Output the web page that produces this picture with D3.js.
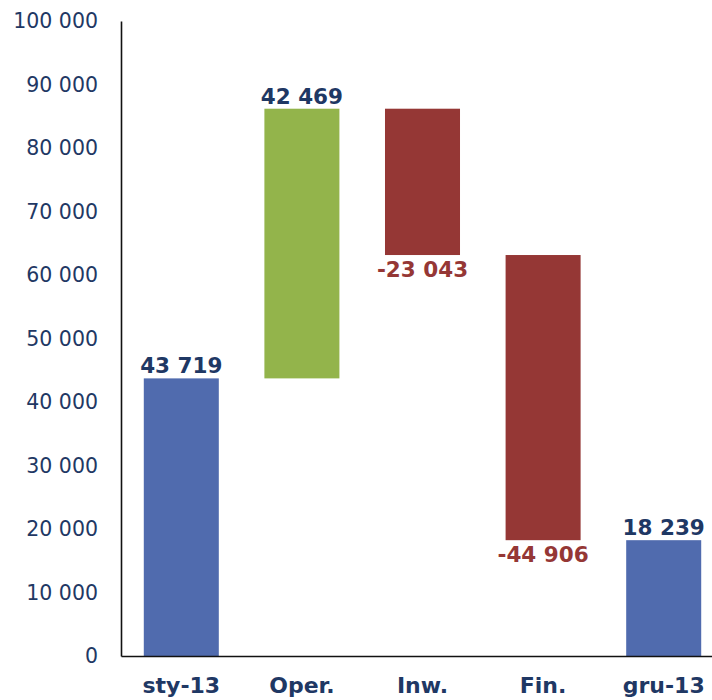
<!DOCTYPE html>
<html>
<head>
<meta charset="utf-8">
<script src="https://cdn.jsdelivr.net/npm/d3@7"></script>
<style>
  body { margin: 0; background: #fff; }
  #wrapper svg { display: block; font-family: "DejaVu Sans", Verdana, sans-serif; }
</style>
</head>
<body>
<div id="wrapper"></div>
<script>
const categories = ["sty-13", "Oper.", "Inw.", "Fin.", "gru-13"];
const values = [43719, 42469, -23043, -44906, 18239];
const kinds = ["total", "delta", "delta", "delta", "total"];
const yTicks = [0, 10000, 20000, 30000, 40000, 50000, 60000, 70000, 80000, 90000, 100000];

function drawWaterfall() {
  const locale = d3.formatLocale({thousands: " ", grouping: [3], decimal: ",", currency: ["", ""], minus: "-"});
  const fmt = locale.format(",d");

  // build running start/end for each step
  let running = 0;
  const data = categories.map((c, i) => {
    let start, end;
    if (kinds[i] == "total") { start = 0; end = values[i]; running = values[i]; }
    else { start = running; end = running + values[i]; running = end; }
    return {cat: c, value: values[i], kind: kinds[i], start: start, end: end};
  });

  let dimensions = {
    width: 712,
    height: 700,
    margin: {top: 21, right: 0, bottom: 44, left: 121},
  }
  dimensions.boundedHeight = dimensions.height - dimensions.margin.top - dimensions.margin.bottom;

  const wrapper = d3.select("#wrapper").append("svg")
    .attr("width", dimensions.width)
    .attr("height", dimensions.height);
  const bounds = wrapper.append("g")
    .attr("transform", `translate(${dimensions.margin.left},${dimensions.margin.top})`);

  const yScale = d3.scaleLinear().domain([0, 100000]).range([dimensions.boundedHeight, 0]);
  const xScale = d3.scaleBand().domain(categories).range([0, 603])
    .paddingInner(0.378).paddingOuter(0.189);

  const colorOf = d => d.kind == "total" ? "#506BAE" : (d.value >= 0 ? "#93B44B" : "#953735");

  bounds.selectAll(".bar")
    .data(data)
    .join("rect")
      .attr("class", "bar")
      .attr("x", d => xScale(d.cat))
      .attr("width", xScale.bandwidth())
      .attr("y", d => yScale(Math.max(d.start, d.end)))
      .attr("height", d => Math.abs(yScale(d.start) - yScale(d.end)))
      .attr("fill", colorOf);

  // value labels
  bounds.selectAll(".val")
    .data(data)
    .join("text")
      .attr("class", "val")
      .attr("x", d => xScale(d.cat) + xScale.bandwidth() / 2)
      .attr("y", d => d.value >= 0 ? yScale(d.end) - 5 : yScale(d.end) + 22)
      .attr("text-anchor", "middle")
      .attr("font-size", 21.5)
      .attr("font-weight", "bold")
      .attr("fill", d => d.value >= 0 ? "#1F3864" : "#953735")
      .text(d => fmt(d.value));

  const yAxisGenerator = d3.axisLeft(yScale)
    .tickValues(yTicks)
    .tickSize(0)
    .tickPadding(23)
    .tickFormat(fmt);

  const yAxis = bounds.append("g").call(yAxisGenerator);
  yAxis.select(".domain").attr("stroke", "#111").attr("stroke-width", 1.6);
  yAxis.selectAll("text")
    .attr("font-size", 20.5)
    .attr("fill", "#1F3864")
    .attr("font-family", "DejaVu Sans, sans-serif");

  const xAxisGenerator = d3.axisBottom(xScale).tickSize(0).tickPadding(21);
  const xAxis = bounds.append("g")
    .attr("transform", `translate(0,${dimensions.boundedHeight})`)
    .call(xAxisGenerator);
  xAxis.select(".domain").attr("stroke", "#111").attr("stroke-width", 1.6);
  xAxis.selectAll("text")
    .attr("font-size", 22)
    .attr("font-weight", "bold")
    .attr("fill", "#1F3864")
    .attr("font-family", "DejaVu Sans, sans-serif");
}

drawWaterfall();
</script>
</body>
</html>
